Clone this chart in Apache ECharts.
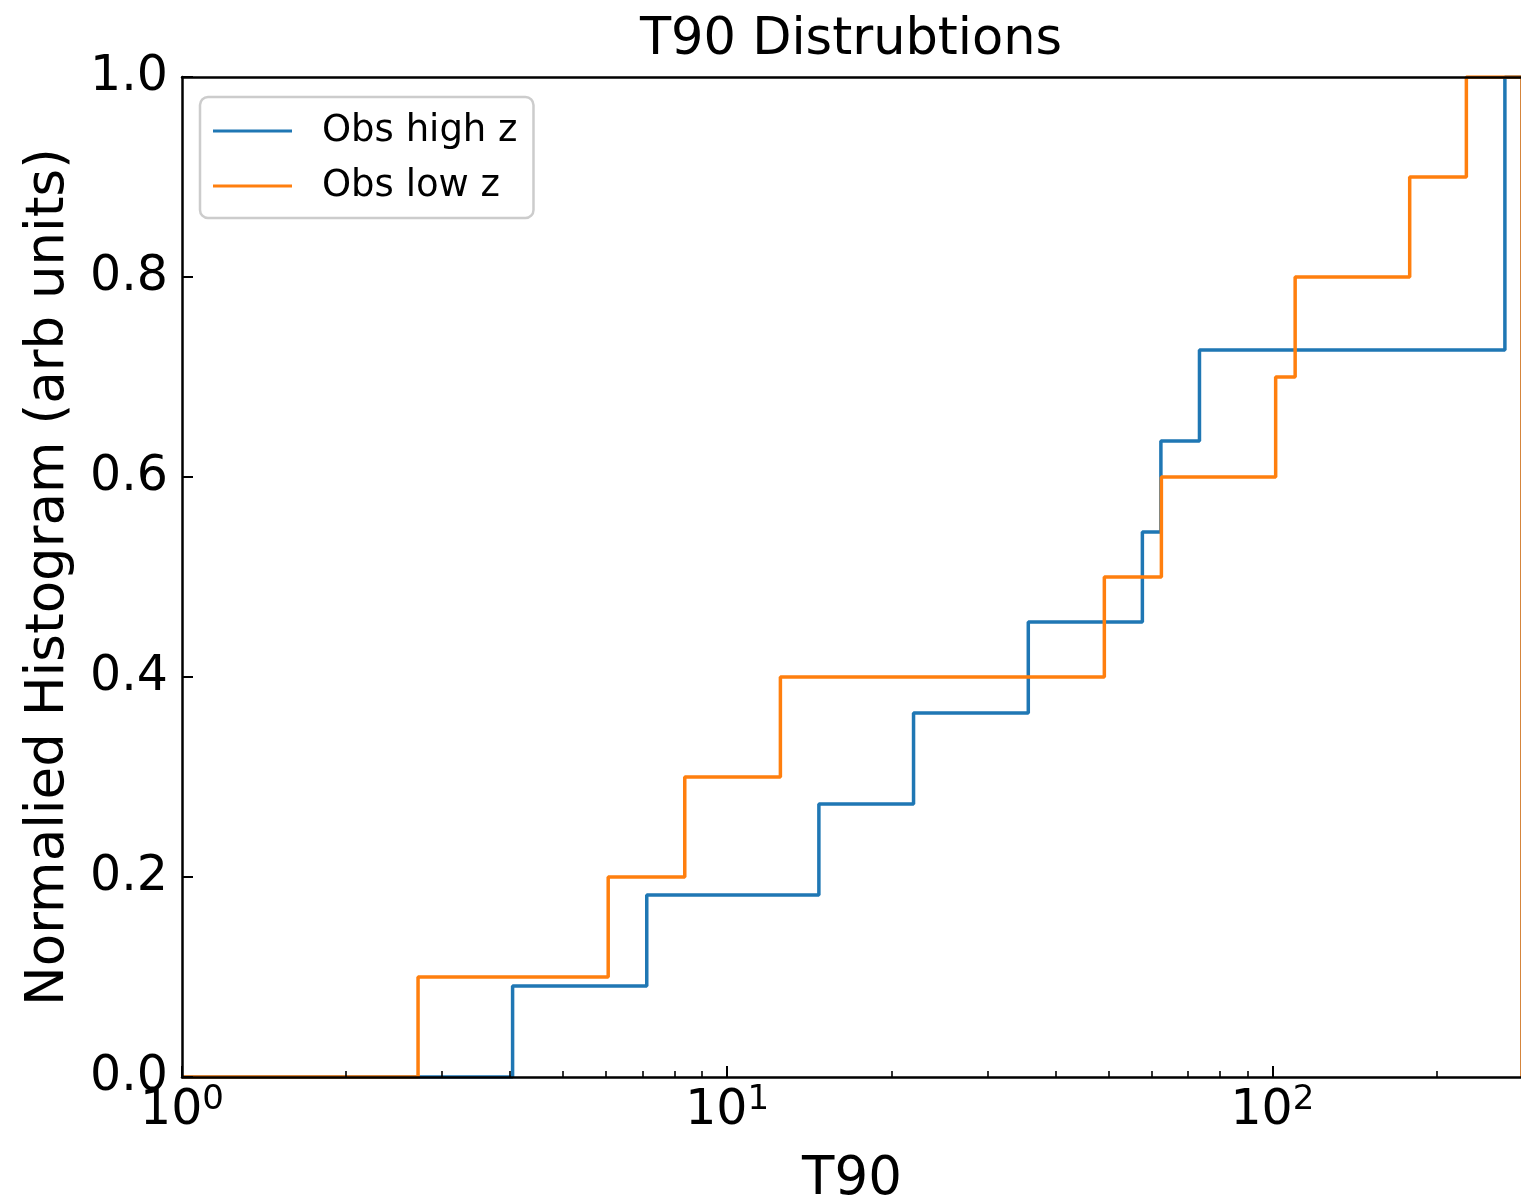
<!DOCTYPE html>
<html><head><meta charset="utf-8">
<script src="https://cdn.jsdelivr.net/npm/echarts@6/dist/echarts.min.js"></script>
<style>html,body{margin:0;padding:0;background:#fff}#c{width:1521px;height:1202px}</style>
</head><body><div id="c"></div>
<script>
// Cumulative normalized histogram (bin edge -> cumulative value after that edge)
const highZEdges = [1, 4.04, 7.12, 14.73, 21.97, 35.67, 57.75, 62.45, 73.5, 267, 287, 287];
const highZCum   = [0, 0.091, 0.182, 0.273, 0.364, 0.455, 0.545, 0.636, 0.727, 1.0, 1.0, 0];
const lowZEdges  = [1, 2.71, 6.05, 8.36, 12.52, 49.18, 62.58, 101.4, 110.1, 178.6, 226.9, 287, 287];
const lowZCum    = [0, 0.1, 0.2, 0.3, 0.4, 0.5, 0.6, 0.7, 0.8, 0.9, 1.0, 1.0, 0];
const seriesNames = ['Obs high z', 'Obs low z'];
const xMin = 1, xMax = 287;
const xMinorTicks = [2, 3, 4, 5, 6, 7, 8, 9, 20, 30, 40, 50, 60, 70, 80, 90, 200];
const yMin = 0, yMax = 1, yStep = 0.2;

const font = 'DejaVu Sans';
const chart = echarts.init(document.getElementById('c'), null, {renderer: 'canvas'});
const spine = {color: '#000', width: 2.5};

function logLabel(v) {
  const e = Math.round(Math.log10(v));
  if (Math.abs(Math.pow(10, e) - v) > 1e-6 * v) return '';
  return '{b|10}{s|' + e + '}';
}

const option = {
  animation: false,
  backgroundColor: '#fff',
  title: {
    text: 'T90 Distrubtions', left: 851, top: 15, textAlign: 'center', padding: 0,
    textStyle: {fontFamily: font, fontSize: 51, fontWeight: 'normal', color: '#000'}
  },
  grid: {left: 182, right: -1, top: 77, bottom: 125, containLabel: false, outerBoundsMode: 'none'},
  legend: {
    left: 200, top: 97, orient: 'vertical', padding: [14, 16, 12, 13], itemGap: 15,
    itemWidth: 79, itemHeight: 3, icon: 'rect',
    backgroundColor: 'rgba(255,255,255,0.8)', borderColor: '#cccccc', borderWidth: 2.5, borderRadius: 8,
    textStyle: {fontFamily: font, fontSize: 37, color: '#000', lineHeight: 40, padding: [0, 0, 0, 25]},
    data: seriesNames, z: 20
  },
  xAxis: [
    {
      type: 'log', logBase: 10, min: xMin, max: xMax, position: 'bottom', z: 10,
      axisLine: {show: true, onZero: false, lineStyle: spine},
      axisTick: {show: true, inside: true, length: 11, lineStyle: {color: '#000', width: 2}},
      axisLabel: {
        margin: 6, formatter: logLabel,
        rich: {
          b: {fontFamily: font, fontSize: 49, color: '#000', lineHeight: 56},
          s: {fontFamily: font, fontSize: 34, color: '#000', lineHeight: 28, verticalAlign: 'top'}
        }
      },
      splitLine: {show: false}, minorTick: {show: false},
      name: 'T90', nameLocation: 'middle', nameGap: 77,
      nameTextStyle: {fontFamily: font, fontSize: 53, color: '#000'}
    },
    {
      type: 'log', logBase: 10, min: xMin, max: xMax, position: 'bottom', z: 10,
      axisLine: {show: false, onZero: false},
      axisTick: {show: true, inside: true, length: 6, customValues: xMinorTicks, lineStyle: {color: '#000', width: 1.6}},
      axisLabel: {show: false}, splitLine: {show: false}
    },
    {
      type: 'log', logBase: 10, min: xMin, max: xMax, position: 'top', z: 10,
      axisLine: {show: true, onZero: false, lineStyle: spine},
      axisTick: {show: false}, axisLabel: {show: false}, splitLine: {show: false}
    }
  ],
  yAxis: [{
    type: 'value', min: yMin, max: yMax, interval: yStep, z: 10,
    axisLine: {show: true, lineStyle: spine},
    axisTick: {show: true, inside: true, length: 11, lineStyle: {color: '#000', width: 2}},
    axisLabel: {margin: 14, fontFamily: font, fontSize: 49, color: '#000', padding: [12, 0, 0, 0], formatter: v => v.toFixed(1)},
    splitLine: {show: false},
    name: 'Normalied Histogram (arb units)', nameLocation: 'middle', nameRotate: 90, nameGap: 106,
    nameTextStyle: {fontFamily: font, fontSize: 53, color: '#000'}
  }],
  series: [
    {
      name: seriesNames[0], type: 'line', step: 'end', showSymbol: false, clip: true, xAxisIndex: 0,
      color: '#1f77b4', lineStyle: {width: 3.5, color: '#1f77b4'},
      data: highZEdges.map((x, i) => [x, highZCum[i]])
    },
    {
      name: seriesNames[1], type: 'line', step: 'end', showSymbol: false, clip: true, xAxisIndex: 0,
      color: '#ff7f0e', lineStyle: {width: 3.5, color: '#ff7f0e'},
      data: lowZEdges.map((x, i) => [x, lowZCum[i]])
    }
  ]
};
chart.setOption(option);
</script></body></html>
